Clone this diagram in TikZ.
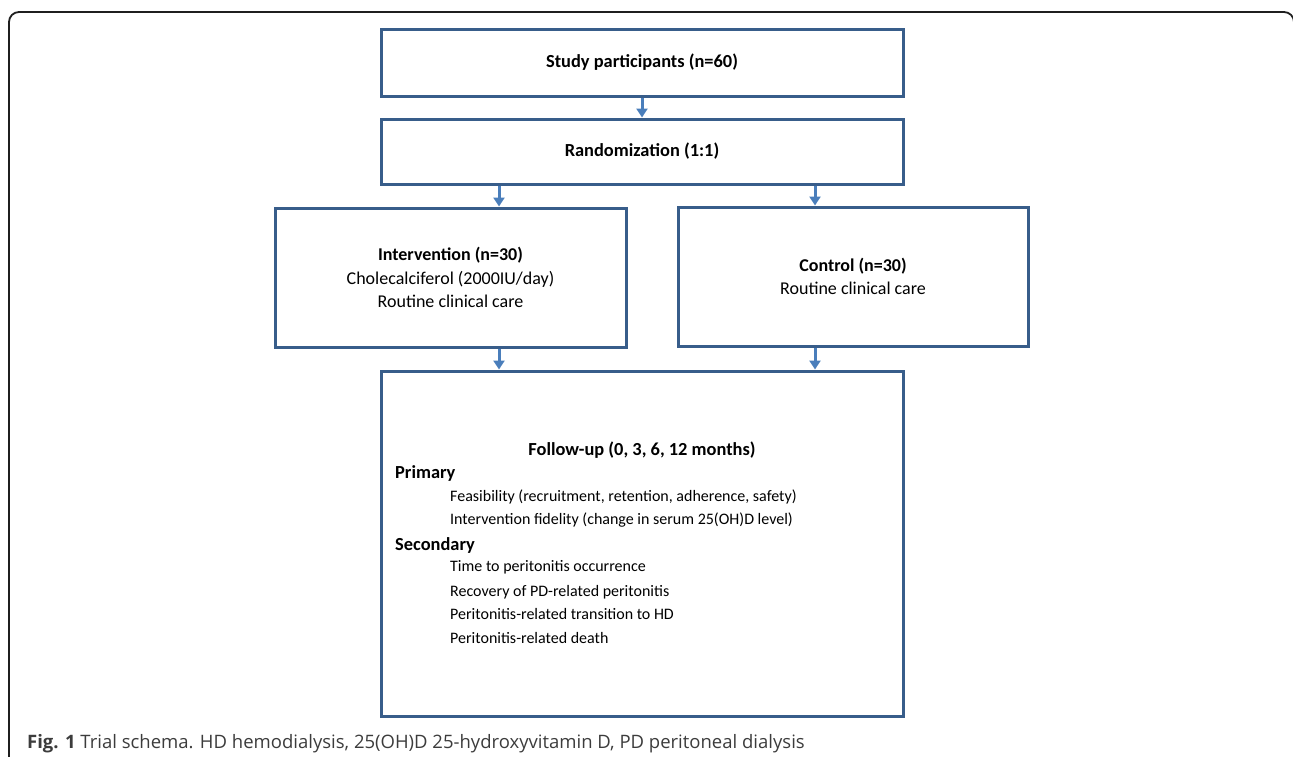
\documentclass[tikz,border=0pt]{standalone}
\usepackage{fontspec}
\usepackage{xcolor}
\usepackage{tikz}
\usetikzlibrary{arrows.meta}
\setmainfont{Carlito}
\newfontfamily\capfont{Open Sans}
\definecolor{boxblue}{HTML}{385D8A}
\definecolor{arrblue}{HTML}{4A7EBB}
\definecolor{capgray}{HTML}{3C3C3C}

\begin{document}
\begin{tikzpicture}[x=1pt, y=-1pt,
  box/.style={draw=boxblue, line width=3pt, rectangle, align=center, inner sep=0pt,
    font=\fontsize{18}{23.5}\selectfont},
  arr/.style={draw=arrblue, line width=3pt, -{Triangle[width=11pt,length=9pt]}},
  txt/.style={inner sep=0pt, font=\fontsize{16}{23.5}\selectfont},
  head/.style={inner sep=0pt, font=\fontsize{18.4}{23.5}\selectfont\bfseries},
  captxt/.style={inner sep=0pt, text=capgray, font=\capfont\fontsize{18.5}{20}\selectfont}]
  \useasboundingbox (0,0) rectangle (1293,756);

  % outer frame
  \begin{scope}
    \clip (0,0) rectangle (1293,756);
    \draw[line width=1.8pt, color=black!88, rounded corners=10pt]
      (9,800) -- (9,12) -- (1294,12) -- (1294,800);
  \end{scope}

  \node[box, minimum width=522pt, minimum height=67pt]  (study)  at (642,62.5)
    {{\fontsize{18.4}{23.5}\selectfont\bfseries Study participants (n=60)}};
  \node[box, minimum width=522pt, minimum height=65pt]  (rand)   at (642,151.5)
    {{\fontsize{18.4}{23.5}\selectfont\bfseries Randomization (1:1)}};
  \node[box, minimum width=351pt, minimum height=139pt] (interv) at (450.5,277.5)
    {\textbf{Intervention (n=30)}\\Cholecalciferol (2000IU/day)\\Routine clinical care};
  \node[box, minimum width=350pt, minimum height=139pt] (ctrl)   at (853,276.5)
    {\textbf{Control (n=30)}\\Routine clinical care};
  \node[box, minimum width=522pt, minimum height=345pt] (follow) at (642,543.5) {};

  \coordinate (lx) at (499,0);
  \coordinate (rx) at (815,0);

  \draw[arr] (study.south) -- (rand.north);
  \draw[arr] (rand.south -| lx) -- (interv.north -| lx);
  \draw[arr] (rand.south -| rx) -- (ctrl.north -| rx);
  \draw[arr] (interv.south -| lx) -- (follow.north -| lx);
  \draw[arr] (ctrl.south -| rx) -- (follow.north -| rx);

  % follow-up contents
  \node[head, anchor=base]      (futitle) at (642,455) {Follow-up (0, 3, 6, 12 months)};
  \node[head, anchor=base west] (prim)    at (395,478) {Primary};
  \node[txt, anchor=base west]  (p1)      at (450,501) {Feasibility (recruitment, retention, adherence, safety)};
  \node[txt, anchor=base west]  (p2)      at (450,524) {Intervention fidelity (change in serum 25(OH)D level)};
  \node[head, anchor=base west] (sec)     at (395,550) {Secondary};
  \node[txt, anchor=base west]  (s1)      at (450,571) {Time to peritonitis occurrence};
  \node[txt, anchor=base west]  (s2)      at (450,596) {Recovery of PD-related peritonitis};
  \node[txt, anchor=base west]  (s3)      at (450,619) {Peritonitis-related transition to HD};
  \node[txt, anchor=base west]  (s4)      at (450,643) {Peritonitis-related death};

  \node[captxt, anchor=base west] (caption) at (27,748)
    {\textbf{Fig. 1} Trial schema. HD hemodialysis, 25(OH)D 25-hydroxyvitamin D, PD peritoneal dialysis};
\end{tikzpicture}
\end{document}
